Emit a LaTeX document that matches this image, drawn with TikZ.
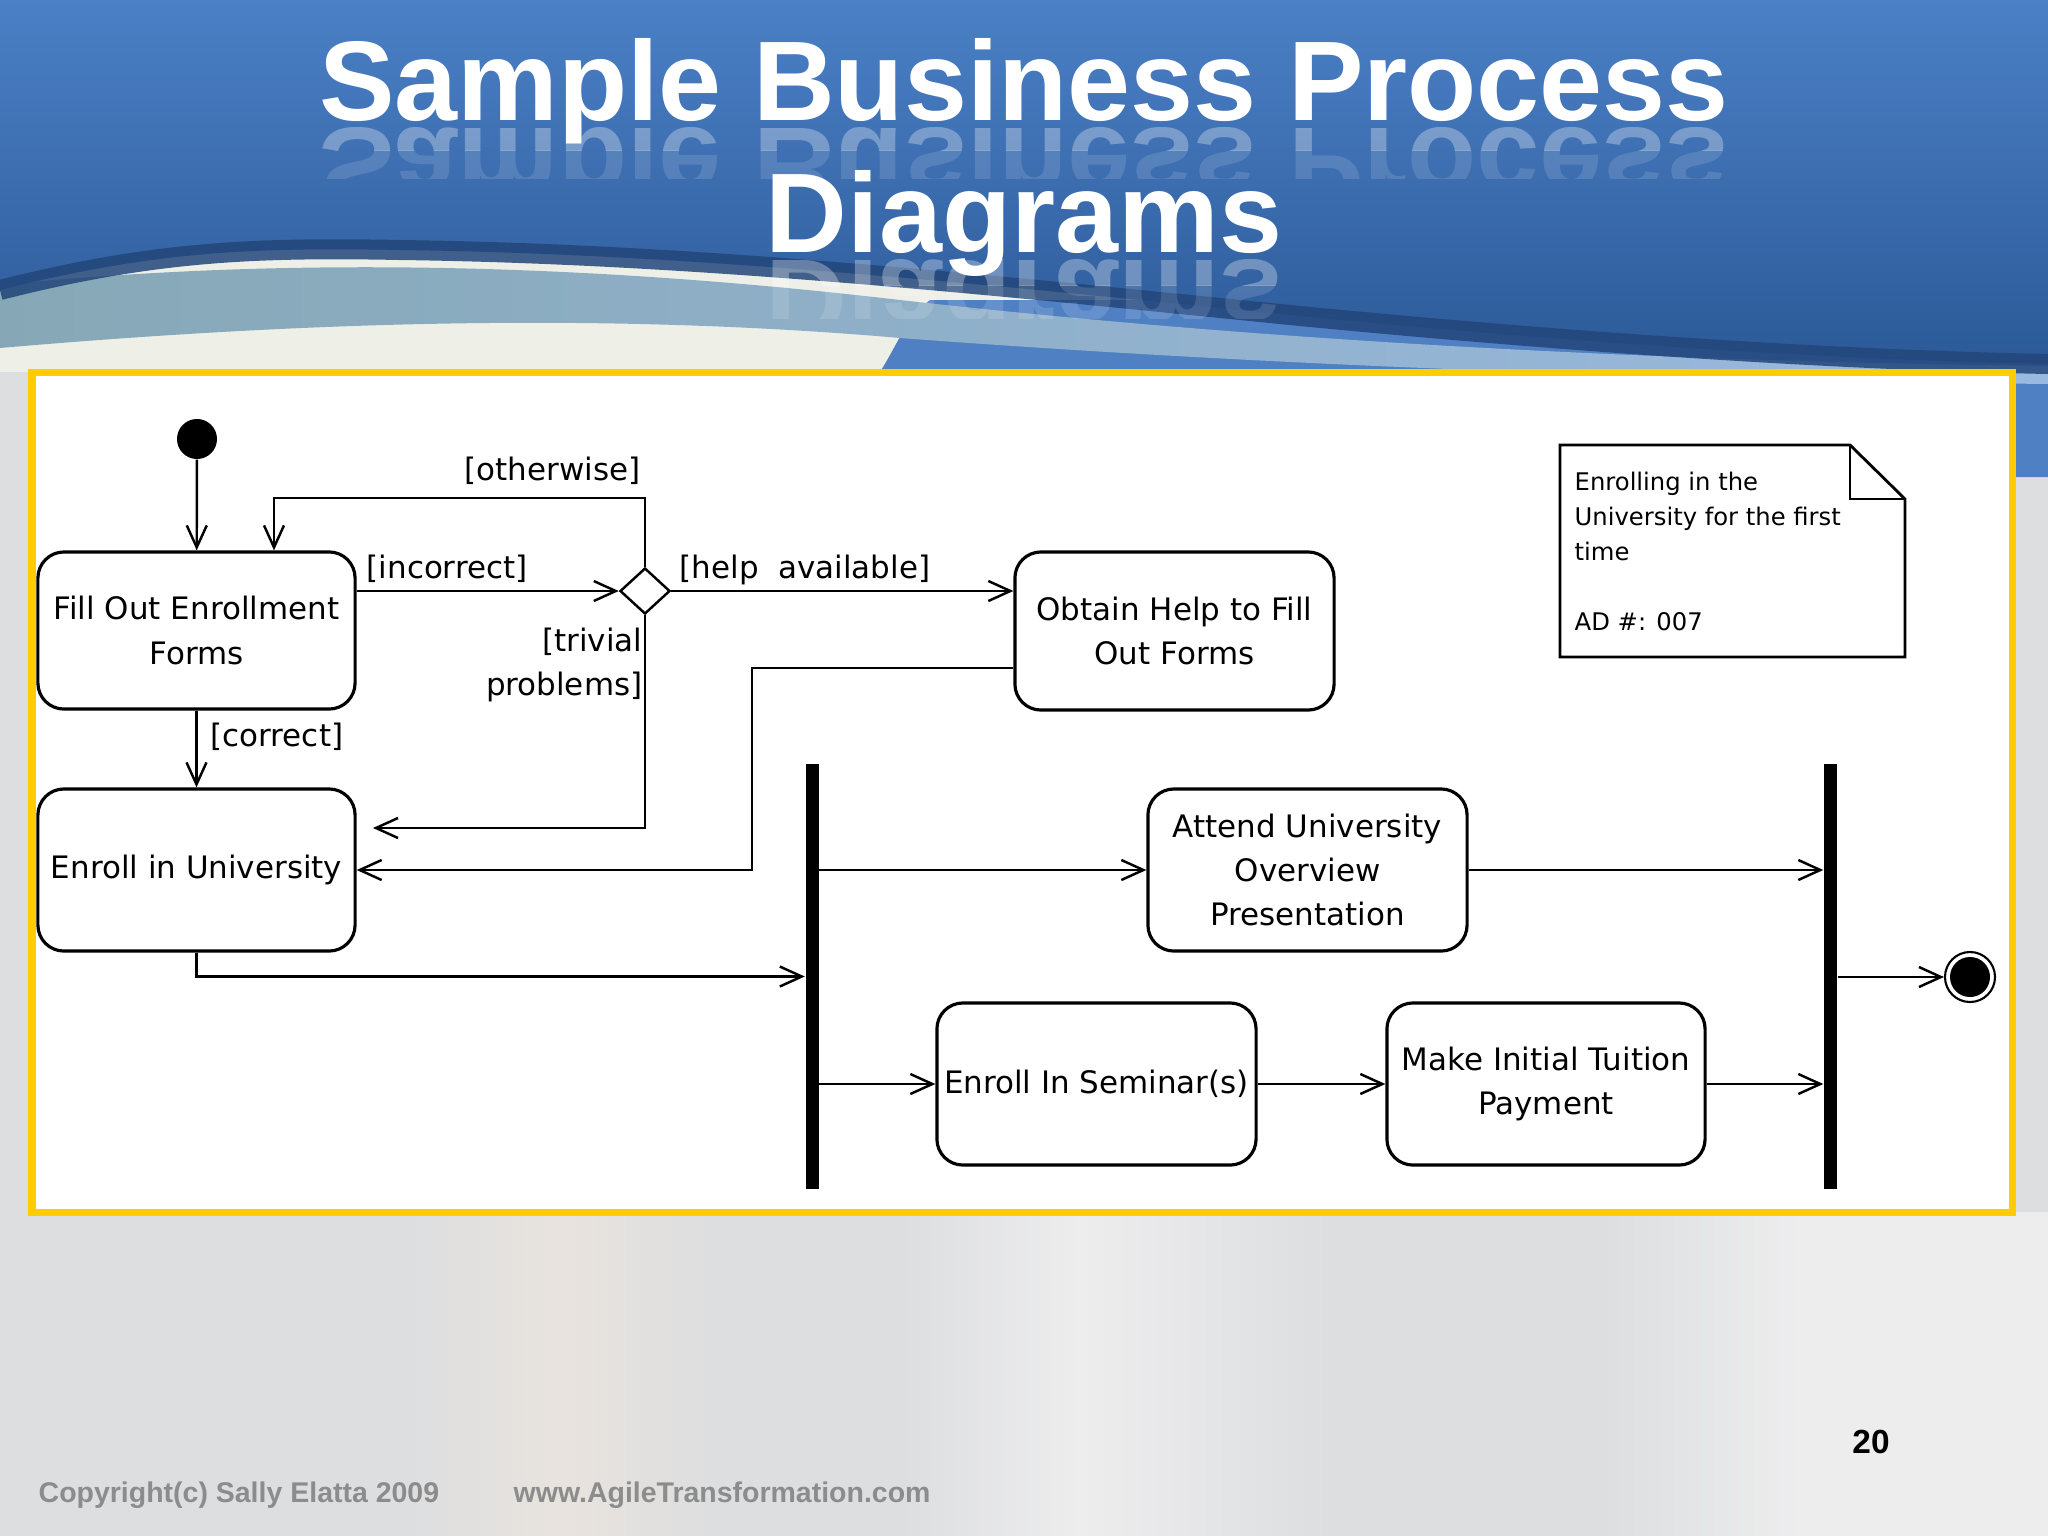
\documentclass[tikz,border=0pt]{standalone}
\usepackage{fontspec}
\newfontfamily\djfont{DejaVu Sans}
\newfontfamily\arfont{Liberation Sans}
\usetikzlibrary{arrows.meta,shapes.geometric,calc}
\definecolor{bggray}{HTML}{DDDEE0}
\definecolor{bglight}{HTML}{EDEDEE}
\definecolor{bgskin}{HTML}{E8E3DE}
\definecolor{paleA}{HTML}{EEF0E8}
\definecolor{midblue}{HTML}{4F80C4}
\definecolor{teal1}{HTML}{86A8B6}
\definecolor{teal2}{HTML}{D4E0DF}
\definecolor{lblue}{HTML}{9AB9E0}
\definecolor{bannerTop}{HTML}{4B80C6}
\definecolor{bannerBot}{HTML}{2C5A98}
\definecolor{navy}{HTML}{22467A}
\definecolor{gold}{HTML}{FFCC00}
\definecolor{footgray}{HTML}{8C8C8C}
\newcommand\actfont{\djfont\fontsize{8.8pt}{12.6pt}\selectfont}
\newcommand\notefont{\djfont\fontsize{6.9pt}{10pt}\selectfont}
\newcommand\titlefont{\arfont\bfseries\fontsize{32.2pt}{36pt}\selectfont}
\newcommand\footfont{\arfont\bfseries\fontsize{8.1pt}{10pt}\selectfont}
\tikzset{
  act/.style={draw=black, line width=0.9pt, rounded corners=0.26cm, fill=white,
    inner sep=0pt, align=center, font=\actfont},
  arr/.style={line width=0.7pt, -{Straight Barb[length=0.22cm,width=0.2cm]}},
  lbl/.style={inner sep=0pt, font=\actfont},
  forkbar/.style={fill=black, draw=none, minimum width=0.13cm, minimum height=4.25cm, inner sep=0pt},
  ttl/.style={anchor=base, text=white, font=\titlefont, inner sep=0pt},
}
\begin{document}
\begin{tikzpicture}[x=0.01cm,y=-0.01cm]
\useasboundingbox (0,0) rectangle (2048,1536);
% ---------- background ----------
\fill[bggray] (0,0) rectangle (2048,1536);
\shade[left color=bggray, right color=bgskin] (400,1212) rectangle (560,1536);
\shade[left color=bgskin, right color=bggray] (560,1212) rectangle (720,1536);
\shade[left color=bggray, right color=bglight] (900,1212) rectangle (1080,1536);
\shade[left color=bglight, right color=bggray] (1080,1212) rectangle (1330,1536);
\shade[left color=bggray, right color=bglight] (1600,1212) rectangle (1800,1536);
\fill[bglight] (1800,1212) rectangle (2048,1536);
\fill[paleA] (0,250) rectangle (2048,372);
% lower blue ribbon
\fill[midblue] (880,372) .. controls (900,340) and (905,320) .. (930,300) -- (2048,300) -- (2048,477) -- (2015,477) -- (2015,372) -- cycle;
% pale ribbon
\shade[left color=teal1, middle color=teal2, right color=lblue]
  (0,285) .. controls (300,255) and (600,265) .. (900,300) .. controls (1300,345) and (1700,362) .. (2048,366)
  -- (2048,384) .. controls (1700,380) and (1300,368) .. (900,338) .. controls (600,312) and (300,322) .. (0,348) -- cycle;
% main banner
\shade[top color=bannerTop, bottom color=bannerBot]
  (0,0) -- (2048,0) -- (2048,364) .. controls (1850,360) and (1600,345) .. (1300,316)
  .. controls (1000,286) and (700,254) .. (400,250) .. controls (250,247) and (150,252) .. (0,290) -- cycle;
\draw[navy, line width=0.2cm, opacity=0.85]
  (0,290) .. controls (150,252) and (250,247) .. (400,250) .. controls (700,254) and (1000,286) .. (1300,316)
  .. controls (1600,345) and (1850,360) .. (2048,364);
% ---------- title ----------
\begin{scope}
\clip (0,127) rectangle (2048,150);
\node[ttl, opacity=0.3] (t1r) at (1024,128) {\scalebox{1}[-1]{Sample Business Process}};
\end{scope}
\begin{scope}
\clip (0,150) rectangle (2048,178);
\node[ttl, opacity=0.13] (t1rb) at (1024,128) {\scalebox{1}[-1]{Sample Business Process}};
\end{scope}
\begin{scope}
\clip (0,259) rectangle (2048,285);
\node[ttl, opacity=0.3] (t2r) at (1024,260) {\scalebox{1}[-1]{Diagrams}};
\end{scope}
\begin{scope}
\clip (0,285) rectangle (2048,318);
\node[ttl, opacity=0.13] (t2rb) at (1024,260) {\scalebox{1}[-1]{Diagrams}};
\end{scope}
\node[ttl] (t1) at (1024,120) {Sample Business Process};
\node[ttl] (t2) at (1024,252) {Diagrams};
% ---------- frame ----------
\draw[gold, line width=0.07cm, fill=white] (32,372) rectangle (2012,1212);
% ---------- diagram ----------
\node[circle, fill=black, minimum size=0.4cm, inner sep=0pt] (init) at (197,439) {};
\node[act, minimum width=3.17cm, minimum height=1.57cm] (fill) at (196.5,630.5) {Fill Out Enrollment\\Forms};
\node[act, minimum width=3.17cm, minimum height=1.62cm] (enroll) at (196.5,870) {Enroll in University};
\node[act, minimum width=3.19cm, minimum height=1.58cm] (obtain) at (1174.5,631) {Obtain Help to Fill\\Out Forms};
\node[act, minimum width=3.19cm, minimum height=1.62cm] (attend) at (1307.5,870) {Attend University\\Overview\\Presentation};
\node[act, minimum width=3.19cm, minimum height=1.62cm] (seminar) at (1096.5,1084) {Enroll In Seminar(s)};
\node[act, minimum width=3.18cm, minimum height=1.62cm] (payment) at (1546,1084) {Make Initial Tuition\\Payment};
\node[diamond, draw=black, line width=0.7pt, fill=white, minimum width=0.5cm, minimum height=0.46cm, inner sep=0pt] (dia) at (645,591) {};
\node[forkbar] (bar1) at (812,976.5) {};
\node[forkbar] (bar2) at (1830.5,976.5) {};
\node[circle, draw=black, line width=0.6pt, minimum size=0.5cm, inner sep=0pt] (final) at (1970,977) {};
\node[circle, fill=black, minimum size=0.4cm, inner sep=0pt] (finalin) at (1970,977) {};
\coordinate (oth) at (274,498);
\coordinate (trivend) at (373,828);
\coordinate (ob1) at (752,668);
% connectors
\draw[arr] (init) -- (fill);
\draw[arr] (fill.east |- dia.west) -- (dia.west);
\draw[arr] (dia.north) |- (oth) -- (oth |- fill.north);
\draw[arr] (dia.east) -- (obtain.west |- dia.east);
\draw[arr] (dia.south) |- (trivend);
\draw[arr] (obtain.west |- ob1) -- (ob1) |- (enroll.east);
\draw[arr] (fill.south) -- (enroll.north);
\draw[arr] (enroll.south) |- (bar1.west);
\draw[arr] (bar1.east |- attend.west) -- (attend.west);
\draw[arr] (bar1.east |- seminar.west) -- (seminar.west);
\draw[arr] (seminar.east) -- (payment.west);
\draw[arr] (attend.east) -- (bar2.west |- attend.east);
\draw[arr] (payment.east) -- (bar2.west |- payment.east);
\draw[arr] (bar2.east |- final.west) -- (final.west);
% labels
\node[lbl, anchor=base east] (lotherwise) at (641,480) {[otherwise]};
\node[lbl, anchor=base west] (lincorrect) at (366,578) {[incorrect]};
\node[lbl, anchor=base west] (lhelp) at (679,578) {[help\ \ available]};
\node[lbl, anchor=north east, align=right] (ltrivial) at (643,627) {[trivial\\problems]};
\node[lbl, anchor=base west] (lcorrect) at (210,746) {[correct]};
% note
\draw[line width=0.8pt, fill=white] (1560,445) -- (1850,445) -- (1905,499) -- (1905,657) -- (1560,657) -- cycle;
\draw[line width=0.8pt] (1850,445) -- (1850,499) -- (1905,499);
\node[anchor=north west, align=left, inner sep=0pt, font=\notefont] (notetxt) at (1574,471)
  {Enrolling in the\\University for the first\\time\\[10pt]AD \#: 007};
% ---------- footer ----------
\node[anchor=base west, inner sep=0pt, font=\footfont, text=footgray] (copy) at (38,1502) {Copyright(c) Sally Elatta 2009};
\node[anchor=base west, inner sep=0pt, font=\footfont, text=footgray] (web) at (513,1502) {www.AgileTransformation.com};
\node[anchor=base, inner sep=0pt, font=\arfont\bfseries\fontsize{9.5pt}{11pt}\selectfont] (pnum) at (1871,1453) {20};
\end{tikzpicture}
\end{document}
